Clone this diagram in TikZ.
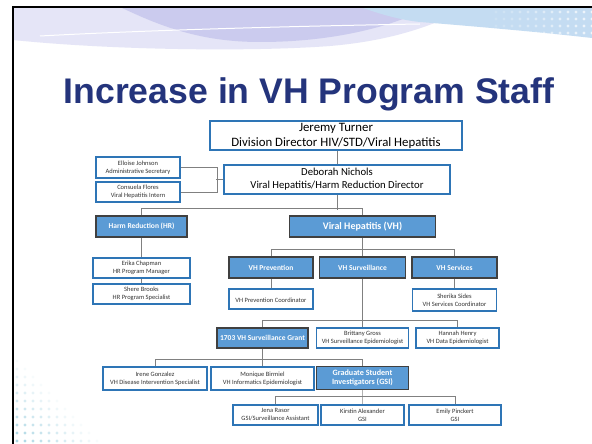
\documentclass[tikz,border=0pt]{standalone}
\usepackage{fontspec}
\setmainfont{Carlito}
\newfontfamily\titlefont{Liberation Sans}
\usepackage{tikz}
\usetikzlibrary{positioning}
\definecolor{boxblue}{RGB}{46,117,182}
\definecolor{unitfill}{RGB}{91,155,213}
\definecolor{unitline}{RGB}{64,64,64}
\definecolor{titleblue}{RGB}{36,52,124}
\definecolor{lav}{RGB}{190,190,234}
\definecolor{skyband}{RGB}{176,208,238}
\definecolor{dotc}{RGB}{170,214,228}
\colorlet{conn}{black!50}
\tikzset{link/.style={draw=conn,line width=0.9pt}}

\begin{document}
\begin{tikzpicture}[x=1pt,y=-1pt,
    person/.style={draw=boxblue,line width=1.7pt,fill=white,align=center,inner sep=0pt,
      text=black!80,font=\fontsize{6.5}{8}\selectfont},
    unit/.style={draw=unitline,line width=1.6pt,fill=unitfill,align=center,inner sep=0pt,
      text=white,font=\fontsize{7.5}{9}\selectfont\bfseries},
    head/.style={draw=boxblue,line width=1.3pt,fill=white,align=center,inner sep=0pt}]
        \useasboundingbox (0,0) rectangle (592,444);
        % slide background
        \fill[white] (0,0) rectangle (592,444);
        \fill[lav!40] (13,7) -- (470,7) .. controls (440,22) and (400,40) .. (330,46)
          .. controls (250,52) and (110,50) .. (13,40) -- cycle;
        \fill[lav!80] (120,7) -- (430,7) .. controls (390,28) and (330,42) .. (260,42)
          .. controls (200,42) and (160,26) .. (120,7) -- cycle;
        \fill[skyband!75] (360,7) -- (592,7) -- (592,38) .. controls (540,32) and (470,26) .. (420,22)
          .. controls (400,20) and (380,14) .. (360,7) -- cycle;
        \draw[white,line width=1pt] (40,36) .. controls (150,30) and (300,26) .. (420,24);
        \draw[white,line width=1pt] (420,30) .. controls (490,34) and (550,40) .. (592,44);
        \foreach \i in {0,...,12}{
          \foreach \j in {0,...,3}{
            \pgfmathsetmacro\op{0.15+0.05*\i}
            \fill[white,opacity=\op] (496+8*\i,12+7*\j) circle (1.6);
          }
        }
        \foreach \i in {0,...,10}{
          \foreach \j in {0,...,10}{
            \pgfmathtruncatemacro\s{\i+\j}
            \ifnum\s<11
              \pgfmathsetmacro\op{1-\s/11}
              \fill[dotc,opacity=\op] (17+8*\i,441-8*\j) circle (1.7);
            \fi
          }
        }
        \draw[line width=2pt] (13,444) -- (13,7) -- (592,7);
        \node[anchor=base,text=titleblue,font=\titlefont\fontsize{35.6}{40}\selectfont\bfseries]
          (title) at (309,103) {Increase in VH Program Staff};
        % directors
        \node[head,minimum width=252,minimum height=29,font=\fontsize{12.8}{15}\selectfont]
          (jt) at (336,135.5) {Jeremy Turner\\Division Director HIV/STD/Viral Hepatitis};
        \node[head,minimum width=226,minimum height=29,font=\fontsize{10.7}{13}\selectfont]
          (dn) at (337,179.5) {Deborah Nichols\\Viral Hepatitis/Harm Reduction Director};
        \node[person,minimum width=84,minimum height=21] (ej) at (138,167.5)
          {Elloise Johnson\\Administrative Secretary};
        \node[person,minimum width=84,minimum height=20] (cf) at (138,192)
          {Consuela Flores\\Viral Hepatitis Intern};
        % programs
        \node[unit,minimum width=91,minimum height=21] (hr) at (141.5,226.5) {Harm Reduction (HR)};
        \node[unit,minimum width=146,minimum height=21,font=\fontsize{10}{12}\selectfont\bfseries]
          (vh) at (362.5,226.5) {Viral Hepatitis (VH)};
        \node[person,minimum width=97,minimum height=20] (ec) at (141.5,268)
          {Erika Chapman\\HR Program Manager};
        \node[person,minimum width=97,minimum height=20] (sb) at (141.5,294)
          {Shere Brooks\\HR Program Specialist};
        \node[unit,minimum width=84,minimum height=21] (vp) at (271,267.5) {VH Prevention};
        \node[unit,minimum width=86,minimum height=21] (vsu) at (362.5,267.5) {VH Surveillance};
        \node[unit,minimum width=85,minimum height=21] (vse) at (454.5,267.5) {VH Services};
        \node[person,minimum width=84,minimum height=20] (pc) at (271,299)
          {\mbox{}\\VH Prevention Coordinator};
        \node[person,minimum width=84,minimum height=22] (sc) at (454.5,300)
          {Sherika Sides\\VH Services Coordinator};
        % surveillance
        \node[unit,minimum width=91,minimum height=20] (g17) at (262.5,338) {1703 VH Surveillance Grant};
        \node[person,minimum width=92,minimum height=20] (bg) at (362.5,338)
          {Brittany Gross\\VH Surveillance Epidemiologist};
        \node[person,minimum width=83,minimum height=20] (hh) at (457.5,338)
          {Hannah Henry\\VH Data Epidemiologist};
        \node[person,minimum width=104,minimum height=23] (ig) at (155,378.5)
          {Irene Gonzalez\\VH Disease Intervention Specialist};
        \node[person,minimum width=103,minimum height=23] (mb) at (262.5,378.5)
          {Monique Birmiel\\VH Informatics Epidemiologist};
        \node[unit,minimum width=92,minimum height=23,font=\fontsize{8.1}{9.6}\selectfont\bfseries]
          (gsi) at (362.5,378) {Graduate Student\\Investigators (GSI)};
        \node[person,minimum width=85,minimum height=20] (jr) at (275.5,415)
          {Jena Rasor\\GSI/Surveillance Assistant};
        \node[person,minimum width=83,minimum height=20] (ka) at (362.5,415)
          {Kirstin Alexander\\GSI};
        \node[person,minimum width=92,minimum height=20] (ep) at (455,415)
          {Emily Pinckert\\GSI};
        % connectors
        \draw[link] (dn.north) -- (dn.north |- jt.south);
        \draw[link] (ej.east) -- ++(37,0) |- (cf.east);
        \draw[link] (dn.west) -- ++(-7,0);
        \draw[link] (dn.south) -- ++(0,15);
        \draw[link] (hr.north) -- ++(0,-7) -| (vh.north);
        \draw[link] (hr.south) -- (ec.north);
        \draw[link] (ec.south) -- (sb.north);
        \draw[link] (vh.south) -- (vsu.north);
        \draw[link] (vp.north) -- ++(0,-7) -| (vse.north);
        \draw[link] (vp.south) -- (pc.north);
        \draw[link] (vse.south) -- (sc.north);
        \draw[link] (vsu.south) -- (bg.north);
        \draw[link] (g17.north) -- ++(0,-7) -| (hh.north);
        \draw[link] (g17.south) -- (mb.north);
        \draw[link] (ig.north) -- ++(0,-7) -| (gsi.north);
        \draw[link,draw=black!30] (gsi.south) -- (ka.north);
        \draw[link] (jr.north) -- ++(0,-8) -| (ep.north);
      \end{tikzpicture}
\end{document}
